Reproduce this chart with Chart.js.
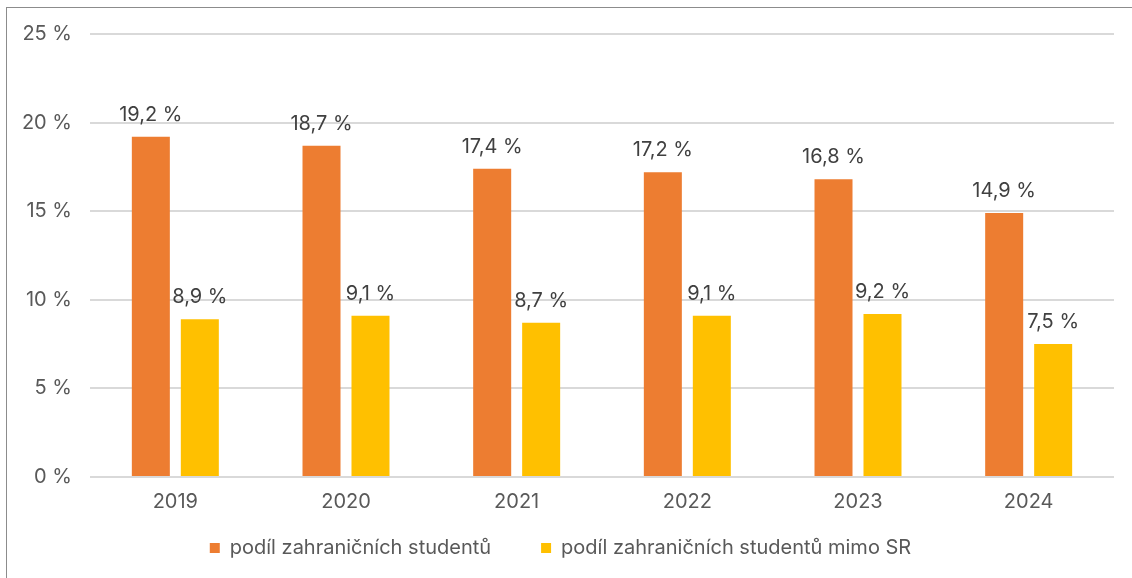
<!DOCTYPE html>
<html>
<head>
<meta charset="utf-8">
<script src="https://cdn.jsdelivr.net/npm/chart.js@4"></script>
<style>
  html, body { margin: 0; padding: 0; background: #fff; }
  #frame {
    position: absolute; left: 6px; top: 7px; width: 1140px; height: 590px;
    border: 1px solid #8c8c8c; box-sizing: border-box;
  }
  #wrap { position: absolute; left: 7px; top: 4px; width: 1125px; height: 574px; }
</style>
</head>
<body>
<div id="frame"></div>
<div id="wrap"><canvas id="chart"></canvas></div>
<script>
// Data
const years = ['2019', '2020', '2021', '2022', '2023', '2024'];
const shareForeign = [19.2, 18.7, 17.4, 17.2, 16.8, 14.9];
const shareForeignOutsideSR = [8.9, 9.1, 8.7, 9.1, 9.2, 7.5];
const seriesNames = ['podíl zahraničních studentů', 'podíl zahraničních studentů mimo SR'];

const fontFamily = 'Inter, "Open Sans", sans-serif';
const fontSize = 20;
const fmt = v => v.toFixed(1).replace('.', ',') + ' %';

// Draw value labels above bars
const valueLabels = {
    id: 'valueLabels',
    afterDatasetsDraw(chart) {
        const ctx = chart.ctx;
        ctx.save();
        ctx.font = fontSize + 'px ' + fontFamily;
        ctx.fillStyle = '#404040';
        ctx.textAlign = 'center';
        ctx.textBaseline = 'alphabetic';
        chart.data.datasets.forEach((ds, i) => {
            chart.getDatasetMeta(i).data.forEach((bar, j) => {
                ctx.fillText(fmt(ds.data[j]), bar.x, bar.y - 16);
            });
        });
        ctx.restore();
    }
};

new Chart(document.getElementById('chart'), {
    type: 'bar',
    data: {
        labels: years,
        datasets: [
            {
                label: seriesNames[0],
                data: shareForeign,
                backgroundColor: '#ED7D31'
            },
            {
                label: seriesNames[1],
                data: shareForeignOutsideSR,
                backgroundColor: '#FFC000'
            }
        ]
    },
    options: {
        responsive: true,
        maintainAspectRatio: false,
        animation: false,
        datasets: {
            bar: { categoryPercentage: 0.574, barPercentage: 0.776 }
        },
        layout: { padding: { left: 0, right: 18, top: 8, bottom: 10 } },
        scales: {
            x: {
                grid: { display: false, drawTicks: false },
                border: { display: false },
                ticks: { color: '#595959', font: { family: fontFamily, size: fontSize }, padding: 13 },
                afterFit(scale) { scale.height = 51; }
            },
            y: {
                min: 0,
                max: 25,
                ticks: {
                    stepSize: 5,
                    color: '#595959',
                    font: { family: fontFamily, size: fontSize },
                    padding: 18,
                    callback: v => v + ' %'
                },
                grid: { color: '#d9d9d9', lineWidth: 2, drawTicks: false },
                border: { display: false },
                afterFit(scale) { scale.width = 83; }
            }
        },
        plugins: {
            legend: {
                position: 'bottom',
                labels: {
                    color: '#595959',
                    font: { family: fontFamily, size: fontSize },
                    boxWidth: 10,
                    boxHeight: 10,
                    padding: 10,
                    generateLabels(chart) {
                        const items = Chart.defaults.plugins.legend.labels.generateLabels(chart);
                        items[0].text += '\u2003\u2003';
                        return items;
                    }
                }
            },
            tooltip: { enabled: false }
        }
    },
    plugins: [valueLabels]
});
</script>
</body>
</html>
